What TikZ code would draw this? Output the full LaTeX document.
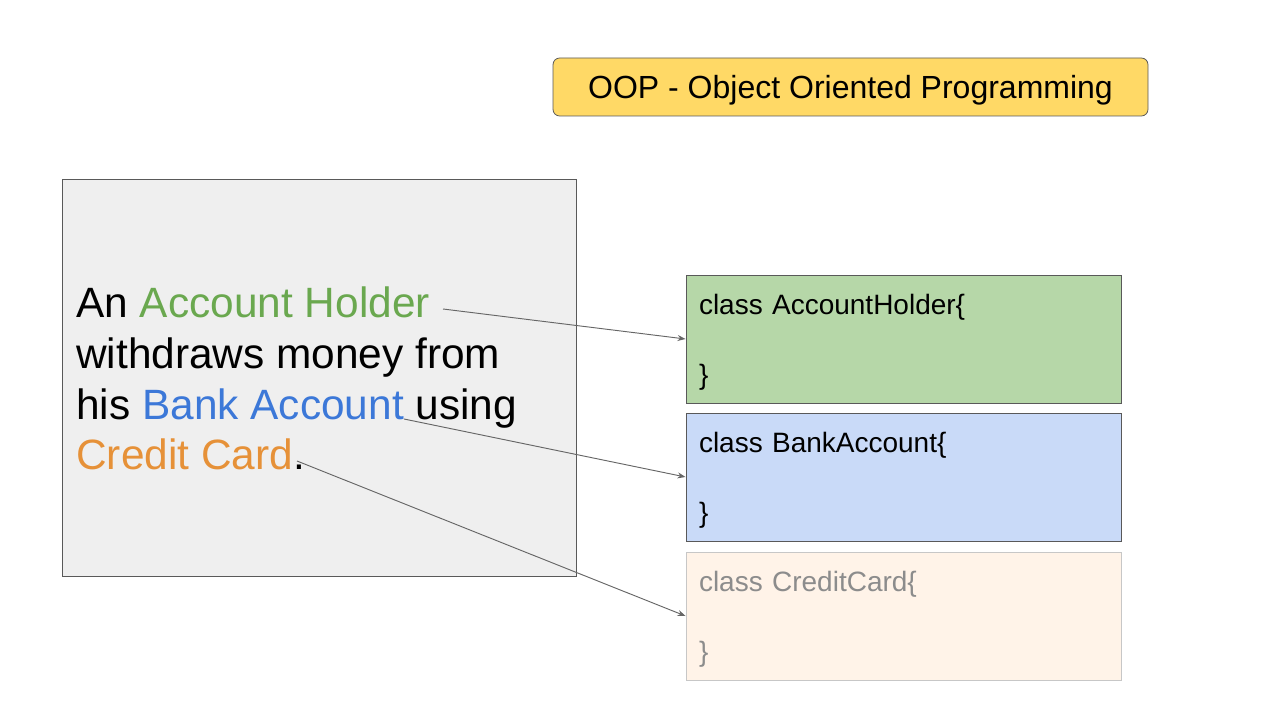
\documentclass[tikz,border=0pt]{standalone}
\usepackage{fontspec}
\setmainfont{Liberation Sans}
\usetikzlibrary{arrows.meta}
\definecolor{titleyellow}{HTML}{FFD966}
\definecolor{storygray}{HTML}{EFEFEF}
\definecolor{holdergreen}{HTML}{B6D7A8}
\definecolor{accountblue}{HTML}{C9DAF8}
\definecolor{cardpeach}{HTML}{FFF3E8}
\definecolor{wordgreen}{HTML}{6AA84F}
\definecolor{wordblue}{HTML}{3C78D8}
\definecolor{wordorange}{HTML}{E69138}
\newcommand{\toppad}{\rule{0pt}{20pt}}
\begin{document}
\begin{tikzpicture}
    [ x=0.75pt, y=-0.75pt,
      title-node/.style = {
        shape=rectangle, rounded corners=5pt,
        draw=black!65, fill=titleyellow, line width=0.6pt,
        minimum width=446.25pt, minimum height=43.5pt,
        text height=19pt, text depth=1pt,
        font=\fontsize{24pt}{28pt}\selectfont
      },
      story-box/.style = {
        shape=rectangle, draw=black!65, fill=storygray, line width=0.7pt,
        minimum width=385.5pt, minimum height=297.75pt
      },
      story-txt/.style = {
        align=left, inner sep=0pt,
        font=\fontsize{31.8pt}{37.9pt}\selectfont
      },
      class-box/.style = {
        shape=rectangle, draw=black!65, line width=0.7pt,
        minimum width=326.25pt, minimum height=96pt,
        text width=306.75pt, inner xsep=9.75pt, align=left,
        font=\fontsize{21pt}{26.25pt}\selectfont
      },
      link/.style = {draw=black!60, line width=0.7pt,
        -{Stealth[length=6pt,width=4.5pt]}}]
      \useasboundingbox (0,0) rectangle (1280,720);
      \node [title-node] (title) at (850.5,87) {OOP - Object Oriented Programming};
      \node [story-box] (story) at (319,377.5) {};
      \node [story-txt, anchor=north west] (words) at (76,287)
        {An \textcolor{wordgreen}{Account Holder}\\
         withdraws money from\\
         his \textcolor{wordblue}{Bank Account} using\\
         \textcolor{wordorange}{Credit Card}.};
      \node [class-box, fill=holdergreen] (holder) at (903.5,339)
        {\toppad class AccountHolder\{\\[26.25pt]\}};
      \node [class-box, fill=accountblue] (account) at (903.5,477)
        {\toppad class BankAccount\{\\[26.25pt]\}};
      \node [class-box, fill=cardpeach, draw=black!22, text=black!45] (card) at (903.5,616)
        {\toppad class CreditCard\{\\[26.25pt]\}};
      % ends of the coloured words
      \coordinate (holder-word) at (443,309);
      \coordinate (account-word) at (404,419);
      \coordinate (card-word) at (297,461);
      \draw [link] (holder-word) -- (holder.west);
      \draw [link] (account-word) -- (account.west);
      \draw [link] (card-word) -- (card.west);
  \end{tikzpicture}
\end{document}
